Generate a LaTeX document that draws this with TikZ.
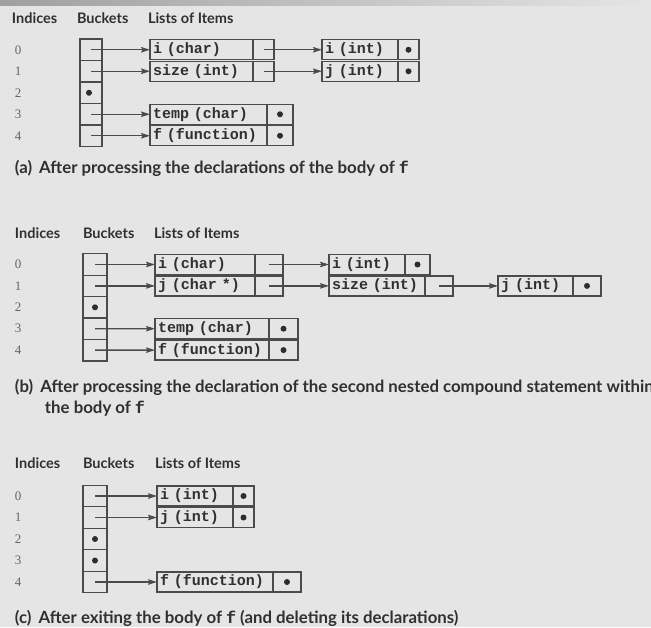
\documentclass[tikz,border=0pt]{standalone}
\usepackage{fontspec}
\setmainfont{Liberation Serif}
\newfontfamily\hfont{Lato}
\newfontfamily\mfont{Liberation Mono}
\usetikzlibrary{arrows.meta}
\definecolor{bgc}{RGB}{229,229,229}
\definecolor{linec}{RGB}{75,75,75}
\definecolor{txtc}{RGB}{48,48,48}
\definecolor{idxc}{RGB}{100,100,100}
\definecolor{dotc}{RGB}{45,45,45}
\begin{document}
\begin{tikzpicture}[x=1pt,y=-1pt,
  every node/.style={inner sep=0pt, outer sep=0pt},
  hdr/.style={anchor=base west, font=\hfont\bfseries\fontsize{14.5}{16}\selectfont, text=txtc},
  captxt/.style={anchor=base west, font=\hfont\bfseries\fontsize{16.8}{19}\selectfont, text=txtc},
  idx/.style={font=\fontsize{13}{15}\selectfont, text=idxc},
  bkt/.style={draw=linec, line width=1.3pt, minimum width=#1, minimum height=21.5pt},
  itm/.style={draw=linec, line width=1.3pt, anchor=west, minimum height=20pt, inner xsep=3pt, text width=#1, align=left, font=\mfont\bfseries\fontsize{15}{16}\selectfont, text=txtc},
  cel/.style={draw=linec, line width=1.3pt, anchor=west, minimum height=20pt, minimum width=#1},
  nil/.style={circle, fill=dotc, minimum size=6pt},
  ptr/.style={draw=linec, line width=1.4pt, -{Stealth[length=9pt,width=5.5pt,inset=1.5pt]}},
]
\useasboundingbox (0,0) rectangle (651,627);
\fill[bgc] (0,0) rectangle (651,627);
\shade[left color=gray!75, right color=bgc] (0,0) rectangle (651,5);

% ---------------- panel (a) ----------------
\node[hdr] (ha1) at (12,23) {Indices};
\node[hdr] (ha2) at (77,23) {Buckets};
\node[hdr] (ha3) at (148,23) {Lists of Items};
\foreach \k in {0,...,4} {
  \node[idx] (ia\k) at (18,49.75+21.5*\k) {\k};
  \node[bkt=22pt] (a\k) at (91,49.75+21.5*\k) {};
}
\node[itm=97pt] (ai0) at (150,49.75) {i (char)};
\node[cel=21pt] (ap0) at (ai0.east) {};
\node[itm=70pt] (aj0) at (322,49.75) {i (int)};
\node[cel=21pt] (aq0) at (aj0.east) {};
\node[nil] (an0) at (aq0.center) {};
\draw[ptr] (a0.center) -- (ai0.west);
\draw[ptr] (ap0.center) -- (aj0.west);

\node[itm=97pt] (ai1) at (150,71.25) {size (int)};
\node[cel=21pt] (ap1) at (ai1.east) {};
\node[itm=70pt] (aj1) at (322,71.25) {j (int)};
\node[cel=21pt] (aq1) at (aj1.east) {};
\node[nil] (an1) at (aq1.center) {};
\draw[ptr] (a1.center) -- (ai1.west);
\draw[ptr] (ap1.center) -- (aj1.west);

\node[nil] (an2) at ([xshift=-2pt]a2.center) {};

\node[itm=111pt] (ai3) at (150,114.25) {temp (char)};
\node[cel=26pt] (ap3) at (ai3.east) {};
\node[nil] (an3) at (ap3.center) {};
\draw[ptr] (a3.center) -- (ai3.west);

\node[itm=111pt] (ai4) at (150,135.75) {f (function)};
\node[cel=26pt] (ap4) at (ai4.east) {};
\node[nil] (an4) at (ap4.center) {};
\draw[ptr] (a4.center) -- (ai4.west);

\node[captxt] (capa) at (15,173) {(a)\hspace{7pt}After processing the declarations of the body of {\mfont\bfseries f}};

% ---------------- panel (b) ----------------
\node[hdr] (hb1) at (15,238) {Indices};
\node[hdr] (hb2) at (83,238) {Buckets};
\node[hdr] (hb3) at (154,238) {Lists of Items};
\foreach \k in {0,...,4} {
  \node[idx] (ib\k) at (18,264.5+21.4*\k) {\k};
  \node[bkt=24pt] (b\k) at (95,264.5+21.4*\k) {};
}
\node[itm=94pt] (bi0) at (155,264.5) {i (char)};
\node[cel=28pt] (bp0) at (bi0.east) {};
\node[itm=70pt] (bj0) at (329,264.5) {i (int)};
\node[cel=25pt] (bq0) at (bj0.east) {};
\node[nil] (bn0) at (bq0.center) {};
\draw[ptr] (b0.center) -- (bi0.west);
\draw[ptr] (bp0.center) -- (bj0.west);

\node[itm=94pt] (bi1) at (155,285.9) {j (char *)};
\node[cel=28pt] (bp1) at (bi1.east) {};
\node[itm=90pt] (bj1) at (329,285.9) {size (int)};
\node[cel=28pt] (bq1) at (bj1.east) {};
\node[itm=69pt] (bk1) at (498,285.9) {j (int)};
\node[cel=28pt] (br1) at (bk1.east) {};
\node[nil] (bn1) at (br1.center) {};
\draw[ptr] (b1.center) -- (bi1.west);
\draw[ptr] (bp1.center) -- (bj1.west);
\draw[ptr] (bq1.center) -- (bk1.west);

\node[nil] (bn2) at (b2.center) {};

\node[itm=108pt] (bi3) at (155,328.7) {temp (char)};
\node[cel=29pt] (bp3) at (bi3.east) {};
\node[nil] (bn3) at (bp3.center) {};
\draw[ptr] (b3.center) -- (bi3.west);

\node[itm=108pt] (bi4) at (155,350.1) {f (function)};
\node[cel=29pt] (bp4) at (bi4.east) {};
\node[nil] (bn4) at (bp4.center) {};
\draw[ptr] (b4.center) -- (bi4.west);

\node[captxt] (capb1) at (15,392) {(b)\hspace{7pt}After processing the declaration of the second nested compound statement within};
\node[captxt] (capb2) at (45,413) {the body of {\mfont\bfseries f}};

% ---------------- panel (c) ----------------
\node[hdr] (hc1) at (15,468) {Indices};
\node[hdr] (hc2) at (83,468) {Buckets};
\node[hdr] (hc3) at (155,468) {Lists of Items};
\foreach \k in {0,...,4} {
  \node[idx] (ic\k) at (18,496+21.5*\k) {\k};
  \node[bkt=24pt] (c\k) at (95,496+21.5*\k) {};
}
\node[itm=70pt] (ci0) at (157,496) {i (int)};
\node[cel=21pt] (cp0) at (ci0.east) {};
\node[nil] (cn0) at (cp0.center) {};
\draw[ptr] (c0.center) -- (ci0.west);

\node[itm=70pt] (ci1) at (157,517.5) {j (int)};
\node[cel=21pt] (cp1) at (ci1.east) {};
\node[nil] (cn1) at (cp1.center) {};
\draw[ptr] (c1.center) -- (ci1.west);

\node[nil] (cn2) at (c2.center) {};
\node[nil] (cn3) at (c3.center) {};

\node[itm=110pt] (ci4) at (157,582) {f (function)};
\node[cel=28pt] (cp4) at (ci4.east) {};
\node[nil] (cn4) at (cp4.center) {};
\draw[ptr] (c4.center) -- (ci4.west);

\node[captxt] (capc) at (15,623) {(c)\hspace{7pt}After exiting the body of {\mfont\bfseries f} (and deleting its declarations)};
\end{tikzpicture}
\end{document}
